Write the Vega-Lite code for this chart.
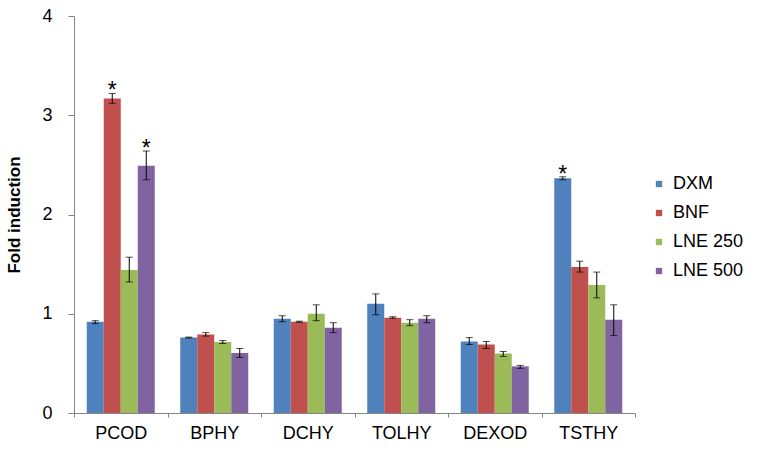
{
  "$schema": "https://vega.github.io/schema/vega-lite/v6.json",
  "width": 561,
  "height": 397,
  "autosize": {"type": "none"},
  "padding": {"left": 74, "top": 16, "right": 122, "bottom": 41},
  "background": "white",
  "config": {"view": {"stroke": null}, "font": "Liberation Sans"},
  "data": {
    "values": [
      {"cat": "PCOD", "series": "DXM", "value": 0.92, "lo": 0.90, "hi": 0.93, "sig": ""},
      {"cat": "PCOD", "series": "BNF", "value": 3.17, "lo": 3.12, "hi": 3.22, "sig": "*"},
      {"cat": "PCOD", "series": "LNE 250", "value": 1.44, "lo": 1.32, "hi": 1.57, "sig": ""},
      {"cat": "PCOD", "series": "LNE 500", "value": 2.49, "lo": 2.35, "hi": 2.64, "sig": "*"},
      {"cat": "BPHY", "series": "DXM", "value": 0.76, "lo": 0.755, "hi": 0.765, "sig": ""},
      {"cat": "BPHY", "series": "BNF", "value": 0.79, "lo": 0.775, "hi": 0.81, "sig": ""},
      {"cat": "BPHY", "series": "LNE 250", "value": 0.715, "lo": 0.70, "hi": 0.73, "sig": ""},
      {"cat": "BPHY", "series": "LNE 500", "value": 0.605, "lo": 0.56, "hi": 0.65, "sig": ""},
      {"cat": "DCHY", "series": "DXM", "value": 0.95, "lo": 0.92, "hi": 0.98, "sig": ""},
      {"cat": "DCHY", "series": "BNF", "value": 0.92, "lo": 0.915, "hi": 0.925, "sig": ""},
      {"cat": "DCHY", "series": "LNE 250", "value": 1.00, "lo": 0.93, "hi": 1.09, "sig": ""},
      {"cat": "DCHY", "series": "LNE 500", "value": 0.86, "lo": 0.81, "hi": 0.91, "sig": ""},
      {"cat": "TOLHY", "series": "DXM", "value": 1.10, "lo": 0.99, "hi": 1.20, "sig": ""},
      {"cat": "TOLHY", "series": "BNF", "value": 0.96, "lo": 0.955, "hi": 0.97, "sig": ""},
      {"cat": "TOLHY", "series": "LNE 250", "value": 0.91, "lo": 0.88, "hi": 0.94, "sig": ""},
      {"cat": "TOLHY", "series": "LNE 500", "value": 0.95, "lo": 0.91, "hi": 0.98, "sig": ""},
      {"cat": "DEXOD", "series": "DXM", "value": 0.72, "lo": 0.69, "hi": 0.76, "sig": ""},
      {"cat": "DEXOD", "series": "BNF", "value": 0.69, "lo": 0.65, "hi": 0.72, "sig": ""},
      {"cat": "DEXOD", "series": "LNE 250", "value": 0.60, "lo": 0.57, "hi": 0.62, "sig": ""},
      {"cat": "DEXOD", "series": "LNE 500", "value": 0.47, "lo": 0.45, "hi": 0.48, "sig": ""},
      {"cat": "TSTHY", "series": "DXM", "value": 2.365, "lo": 2.35, "hi": 2.38, "sig": "*"},
      {"cat": "TSTHY", "series": "BNF", "value": 1.47, "lo": 1.42, "hi": 1.53, "sig": ""},
      {"cat": "TSTHY", "series": "LNE 250", "value": 1.29, "lo": 1.16, "hi": 1.42, "sig": ""},
      {"cat": "TSTHY", "series": "LNE 500", "value": 0.94, "lo": 0.78, "hi": 1.09, "sig": ""}
    ]
  },
  "encoding": {
    "x": {
      "field": "cat",
      "type": "nominal",
      "sort": ["PCOD", "BPHY", "DCHY", "TOLHY", "DEXOD", "TSTHY"],
      "scale": {"paddingInner": 0, "paddingOuter": 0},
      "axis": {
        "title": null,
        "labelAngle": 0,
        "tickBand": "extent",
        "tickSize": 4,
        "tickColor": "#868686",
        "domainColor": "#868686",
        "labelPadding": 7,
        "labelFontSize": 18,
        "labelColor": "black",
        "labelFont": "Liberation Sans"
      }
    },
    "xOffset": {
      "field": "series",
      "sort": ["DXM", "BNF", "LNE 250", "LNE 500"],
      "scale": {"paddingInner": 0, "paddingOuter": 0.75}
    }
  },
  "layer": [
    {
      "mark": {"type": "bar"},
      "encoding": {
        "y": {
          "field": "value",
          "type": "quantitative",
          "scale": {"domain": [0, 4], "nice": false},
          "axis": {
            "values": [0, 1, 2, 3, 4],
            "format": "d",
            "grid": false,
            "title": "Fold induction",
            "titleFontSize": 17,
            "titleFontWeight": "bold",
            "titleColor": "black",
            "titleFont": "Liberation Sans",
            "titlePadding": 18,
            "labelFontSize": 18,
            "labelColor": "black",
            "labelPadding": 16,
            "tickSize": 6,
            "tickColor": "#868686",
            "domainColor": "#868686"
          }
        },
        "color": {
          "field": "series",
          "type": "nominal",
          "sort": ["DXM", "BNF", "LNE 250", "LNE 500"],
          "scale": {
            "domain": ["DXM", "BNF", "LNE 250", "LNE 500"],
            "range": ["#4F81BD", "#C0504D", "#9BBB59", "#8064A2"]
          },
          "legend": {
            "title": null,
            "orient": "none",
            "legendX": 576,
            "legendY": 159,
            "symbolType": "square",
            "symbolSize": 40,
            "symbolStrokeWidth": 0,
            "labelFontSize": 18,
            "labelColor": "black",
            "labelFont": "Liberation Sans",
            "rowPadding": 11,
            "labelOffset": 5
          }
        }
      }
    },
    {
      "mark": {"type": "rule", "color": "black", "strokeWidth": 1},
      "encoding": {
        "y": {"field": "lo", "type": "quantitative"},
        "y2": {"field": "hi"}
      }
    },
    {
      "mark": {"type": "tick", "color": "black", "thickness": 1, "size": 7, "orient": "horizontal"},
      "encoding": {
        "y": {"field": "lo", "type": "quantitative"}
      }
    },
    {
      "mark": {"type": "tick", "color": "black", "thickness": 1, "size": 7, "orient": "horizontal"},
      "encoding": {
        "y": {"field": "hi", "type": "quantitative"}
      }
    },
    {
      "transform": [{"filter": "datum.sig != ''"}],
      "mark": {"type": "text", "baseline": "alphabetic", "dy": 5, "fontSize": 23, "color": "black", "font": "Liberation Sans"},
      "encoding": {
        "y": {"field": "hi", "type": "quantitative"},
        "text": {"field": "sig"}
      }
    }
  ]
}
